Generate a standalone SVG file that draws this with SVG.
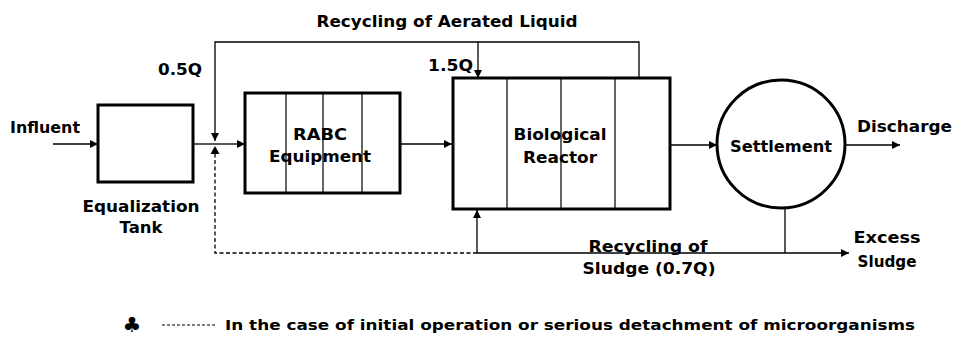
<svg xmlns="http://www.w3.org/2000/svg" width="955" height="342" viewBox="0 0 955 342">
<style>
text{font-family:"DejaVu Sans","Liberation Sans",sans-serif;font-weight:bold;font-size:16px;fill:#000}
.box{fill:#fff;stroke:#000;stroke-width:3}
.div{stroke:#000;stroke-width:1.2;fill:none}
.ln{stroke:#000;stroke-width:1.3;fill:none}
.dash{stroke:#000;stroke-width:1.3;fill:none;stroke-dasharray:4 2.5}
.mid{text-anchor:middle}
</style>
<defs>
<marker id="ah" viewBox="0 0 10 10" refX="10" refY="5" markerWidth="10" markerHeight="8" markerUnits="userSpaceOnUse" orient="auto">
<path d="M0,0 L10,5 L0,10 z" fill="#000"/>
</marker>
</defs>
<rect width="955" height="342" fill="#fff"/>
<g id="connectors">
<line class="ln" x1="53" y1="144" x2="98" y2="144" marker-end="url(#ah)"/>
<line class="ln" x1="193" y1="144" x2="215" y2="144"/>
<line class="ln" x1="215" y1="144" x2="245" y2="144" marker-end="url(#ah)"/>
<polyline class="ln" points="639,78 639,42 215,42 215,141" marker-end="url(#ah)"/>
<line class="ln" x1="478" y1="42" x2="478" y2="78" marker-end="url(#ah)"/>
<line class="ln" x1="400" y1="144" x2="452" y2="144" marker-end="url(#ah)"/>
<line class="ln" x1="670" y1="145" x2="717" y2="145" marker-end="url(#ah)"/>
<line class="ln" x1="845" y1="145" x2="900" y2="145" marker-end="url(#ah)"/>
<line class="ln" x1="785" y1="208" x2="785" y2="253"/>
<line class="ln" x1="477" y1="253" x2="849" y2="253" marker-end="url(#ah)"/>
<line class="ln" x1="477" y1="253" x2="477" y2="210" marker-end="url(#ah)"/>
<polyline class="dash" points="477,253 215,253 215,153"/>
<path d="M215,146 L219.5,154 L210.5,154 z" fill="#000"/>
</g>
<g id="label-recycling-aerated"><text x="447" y="27" class="mid" textLength="261" lengthAdjust="spacingAndGlyphs">Recycling of Aerated Liquid</text></g>
<g id="label-05q"><text x="158" y="75" textLength="44" lengthAdjust="spacingAndGlyphs">0.5Q</text></g>
<g id="label-15q"><text x="428" y="71" textLength="45" lengthAdjust="spacingAndGlyphs">1.5Q</text></g>
<g id="label-influent"><text x="10" y="133" textLength="70" lengthAdjust="spacingAndGlyphs">Influent</text></g>
<g id="equalization-tank">
<rect class="box" x="98" y="105" width="95" height="77"/>
<text x="141" y="212" class="mid" textLength="117" lengthAdjust="spacingAndGlyphs">Equalization</text>
<text x="141" y="233" class="mid" textLength="43" lengthAdjust="spacingAndGlyphs">Tank</text>
</g>
<g id="rabc">
<rect class="box" x="245" y="93" width="155" height="100"/>
<line class="div" x1="286" y1="93" x2="286" y2="193"/>
<line class="div" x1="323" y1="93" x2="323" y2="193"/>
<line class="div" x1="362" y1="93" x2="362" y2="193"/>
<text x="320" y="140" class="mid" textLength="54" lengthAdjust="spacingAndGlyphs">RABC</text>
<text x="320" y="162" class="mid" textLength="102" lengthAdjust="spacingAndGlyphs">Equipment</text>
</g>
<g id="biological-reactor">
<rect class="box" x="453" y="78" width="217" height="131"/>
<line class="div" x1="507" y1="78" x2="507" y2="209"/>
<line class="div" x1="561" y1="78" x2="561" y2="209"/>
<line class="div" x1="615" y1="78" x2="615" y2="209"/>
<text x="560" y="140" class="mid" textLength="93" lengthAdjust="spacingAndGlyphs">Biological</text>
<text x="560" y="163" class="mid" textLength="74" lengthAdjust="spacingAndGlyphs">Reactor</text>
</g>
<g id="settlement">
<circle cx="781" cy="144" r="64" fill="#fff" stroke="#000" stroke-width="3"/>
<text x="781" y="152" class="mid" textLength="102" lengthAdjust="spacingAndGlyphs">Settlement</text>
</g>
<g id="label-discharge"><text x="857" y="132" textLength="95" lengthAdjust="spacingAndGlyphs">Discharge</text></g>
<g id="label-recycling-sludge">
<text x="648" y="252" class="mid" textLength="119" lengthAdjust="spacingAndGlyphs">Recycling of</text>
<text x="649" y="274" class="mid" textLength="133" lengthAdjust="spacingAndGlyphs">Sludge (0.7Q)</text>
</g>
<g id="label-excess">
<text x="887" y="243" class="mid" textLength="67" lengthAdjust="spacingAndGlyphs">Excess</text>
<text x="887" y="267" class="mid" textLength="59" lengthAdjust="spacingAndGlyphs">Sludge</text>
</g>
<g id="legend">
<text x="132" y="332" class="mid" style="font-size:21px">♣</text>
<line class="dash" x1="162" y1="325" x2="215" y2="325" style="stroke-dasharray:3 2;stroke-width:1.2"/>
<text x="225" y="330" style="font-size:14px" textLength="690" lengthAdjust="spacingAndGlyphs">In the case of initial operation or serious detachment of microorganisms</text>
</g>
</svg>
